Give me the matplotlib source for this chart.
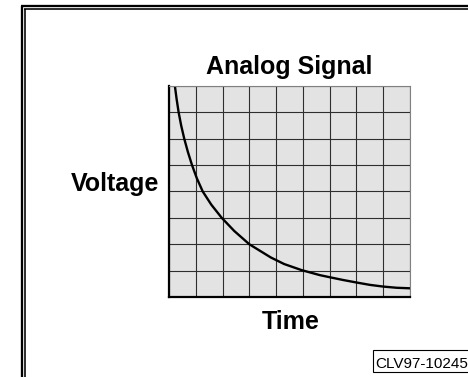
import numpy as np
import matplotlib
matplotlib.use("Agg")
import matplotlib.pyplot as plt
from matplotlib.lines import Line2D
from matplotlib.patches import Rectangle

# Decay curve (x: columns, y: rows)
time = [0.22, 0.285, 0.36, 0.455, 0.57, 0.705, 0.86, 1.04, 1.26, 1.58, 1.97,
        2.44, 3.0, 3.8, 4.3, 4.95, 5.63, 6.0, 6.5, 7.0, 7.5, 8.0, 8.5, 9.0]
voltage = [8.0, 7.5, 7.0, 6.5, 6.0, 5.5, 5.0, 4.5, 4.0, 3.5, 3.0,
           2.5, 2.0, 1.5, 1.25, 1.02, 0.83, 0.75, 0.645, 0.55, 0.46, 0.395, 0.35, 0.33]

title = "Analog Signal"
xlabel = "Time"
ylabel = "Voltage"
tag = "CLV97-10245"

W, H = 468, 377
plt.rcParams['font.family'] = ['Liberation Sans', 'DejaVu Sans']

fig = plt.figure(figsize=(W / 100, H / 100), dpi=100)
fig.patch.set_facecolor('white')


def fx(px):
    return px / W


def fy(py):
    return (H - py) / H


# outer double frame (left and top edges)
for lx, lw in [(22.2, 2.3), (25.2, 1.6)]:
    fig.add_artist(Line2D([fx(lx), fx(lx)], [fy(lx - 16), 0], transform=fig.transFigure,
                          color='black', lw=lw * 0.72, solid_capstyle='butt'))
    fig.add_artist(Line2D([fx(lx - 1), 1], [fy(lx - 16), fy(lx - 16)], transform=fig.transFigure,
                          color='black', lw=lw * 0.72, solid_capstyle='butt'))

ax = fig.add_axes([fx(169), fy(297), fx(410) - fx(169), fy(86) - fy(297)])
ax.set_facecolor('#e3e3e3')
ax.set_xlim(0, 9)
ax.set_ylim(0, 8)
ax.set_xticks(np.arange(0, 10))
ax.set_yticks(np.arange(0, 9))
ax.tick_params(length=0, labelbottom=False, labelleft=False)
ax.grid(True, color='#2e2e2e', lw=0.8)
ax.set_axisbelow(True)

for side in ['top', 'right']:
    ax.spines[side].set_color('#808080')
    ax.spines[side].set_linewidth(0.8)
for side in ['left', 'bottom']:
    ax.spines[side].set_color('black')
    ax.spines[side].set_linewidth(1.6)

ax.plot(time, voltage, color='black', lw=1.7, solid_capstyle='round',
        solid_joinstyle='round', clip_on=True)

fig.text(fx(289.5), fy(74), title, ha='center', va='baseline', fontsize=18, fontweight='bold')
fig.text(fx(159.5), fy(191), ylabel, ha='right', va='baseline', fontsize=18, fontweight='bold')
fig.text(fx(291), fy(329), xlabel, ha='center', va='baseline', fontsize=18, fontweight='bold')

fig.add_artist(Rectangle((fx(372.5), fy(372)), fx(120), fy(349.5) - fy(372),
                         transform=fig.transFigure, facecolor='white',
                         edgecolor='black', lw=0.8))
fig.text(fx(375), fy(367.5), tag, ha='left', va='baseline', fontsize=11)

fig.savefig("out.png", dpi=100)
